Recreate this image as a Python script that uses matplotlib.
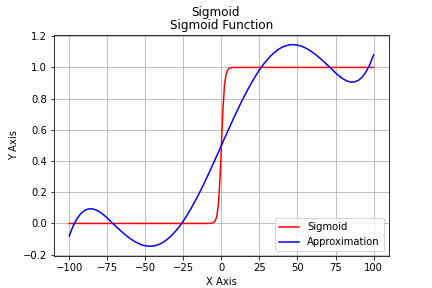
import matplotlib
matplotlib.use("Agg")
import matplotlib.pyplot as plt

sig_x = [-100, -10, -7, -6, -5, -4, -3, -2, -1, 0, 1, 2, 3, 4, 5, 6, 7, 10, 100]
sig_y = [0.0, 0.00005, 0.0009, 0.0025, 0.0067, 0.018, 0.047, 0.119, 0.269, 0.5,
         0.731, 0.881, 0.953, 0.982, 0.9933, 0.9975, 0.9991, 0.99995, 1.0]

approx_x = [-100 + 2.5 * i for i in range(81)]
approx_y = [-0.080, -0.018, 0.029, 0.062, 0.083, 0.093, 0.094, 0.087, 0.074, 0.056,
            0.035, 0.010, -0.012, -0.035, -0.057, -0.078, -0.096, -0.113, -0.126, -0.137,
            -0.143, -0.146, -0.145, -0.139, -0.130, -0.116, -0.097, -0.075, -0.048, -0.018,
            0.016, 0.054, 0.095, 0.139, 0.185, 0.234, 0.285, 0.337, 0.391, 0.445,
            0.500,
            0.555, 0.609, 0.663, 0.715, 0.766, 0.815, 0.861, 0.905, 0.946, 0.984,
            1.018, 1.048, 1.075, 1.097, 1.116, 1.130, 1.139, 1.145, 1.146, 1.143,
            1.137, 1.126, 1.113, 1.096, 1.078, 1.057, 1.035, 1.012, 0.990, 0.965,
            0.944, 0.926, 0.913, 0.906, 0.907, 0.917, 0.938, 0.971, 1.018, 1.080]

fig, ax = plt.subplots(figsize=(6, 4), dpi=72)
ax.plot(sig_x, sig_y, color="red", label="Sigmoid")
ax.plot(approx_x, approx_y, color="blue", label="Approximation")
fig.suptitle("Sigmoid")
ax.set_title("Sigmoid Function")
ax.set_xlabel("X Axis")
ax.set_ylabel("Y Axis")
ax.grid(True)
ax.legend(loc="lower right")
fig.savefig("out.png")
